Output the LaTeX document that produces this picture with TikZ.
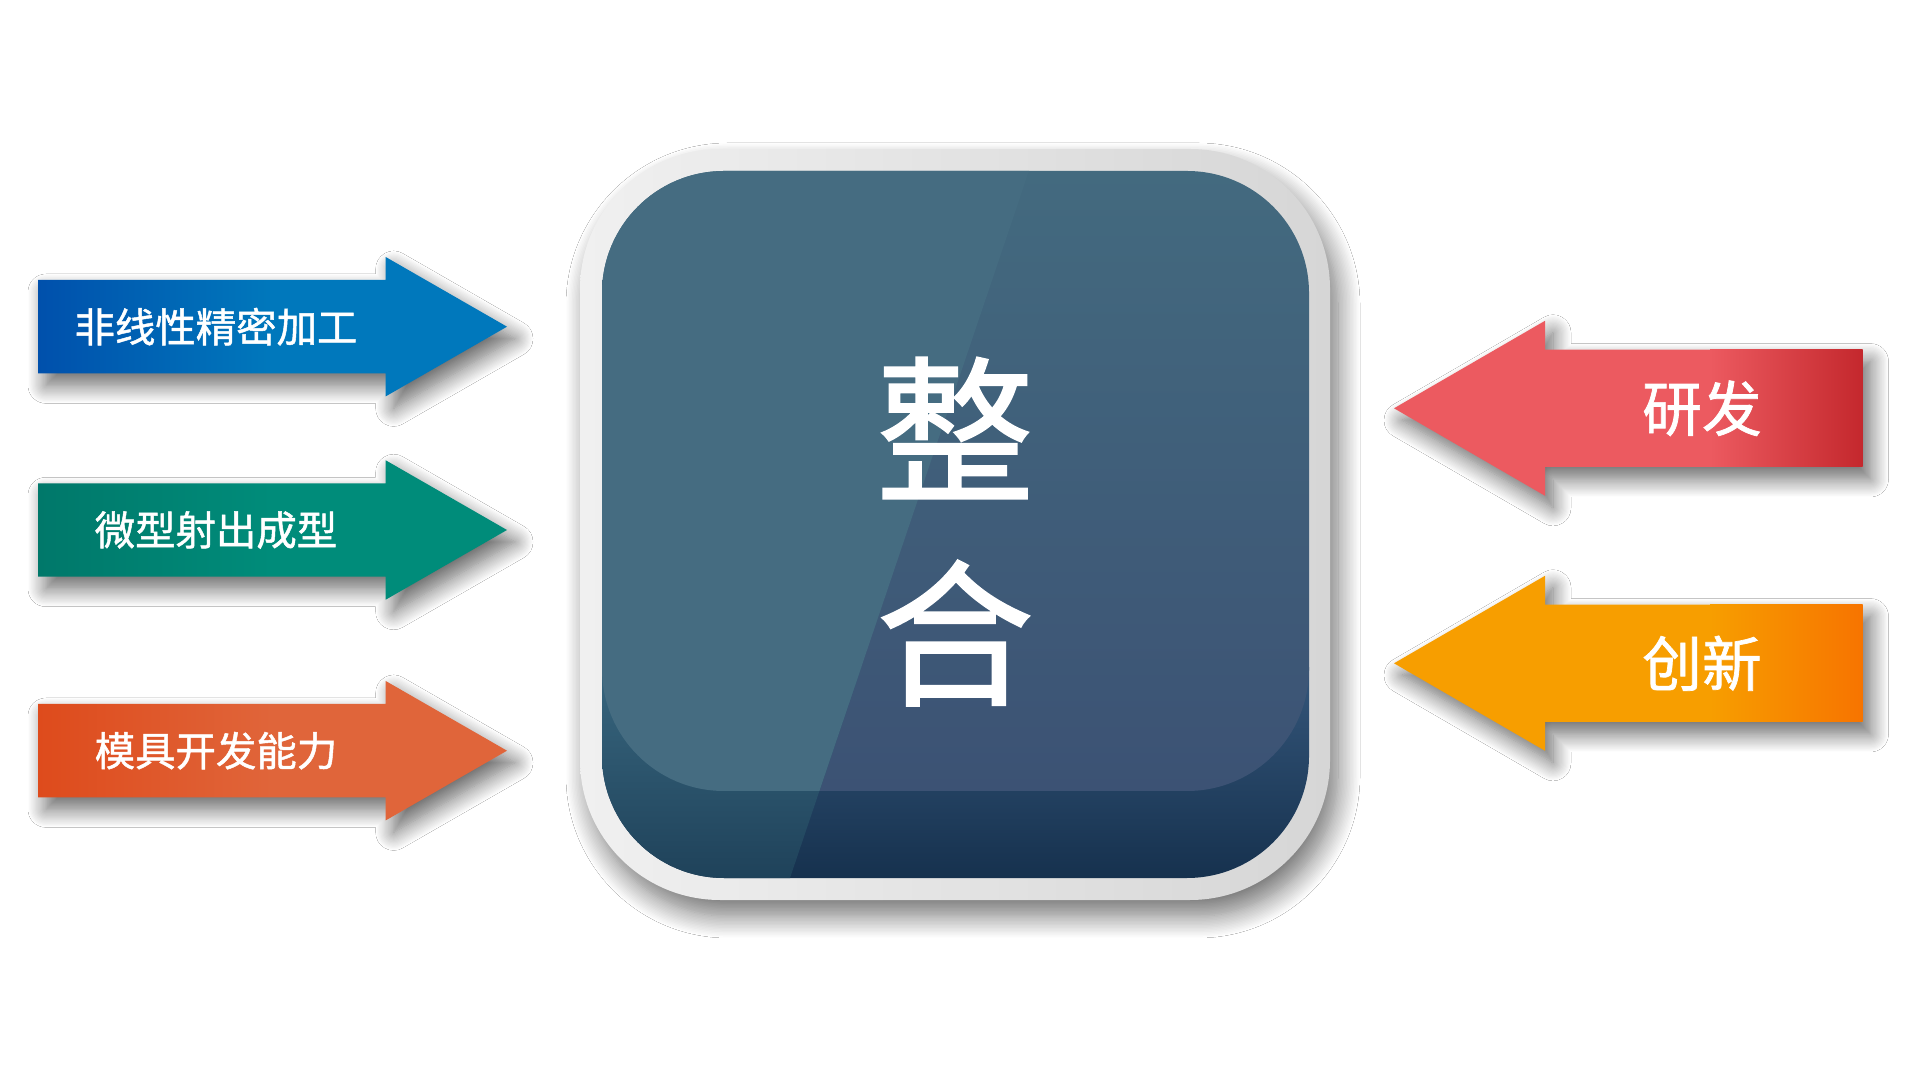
\documentclass[tikz,border=0pt]{standalone}
\usepackage{fontspec}
\newfontfamily\cjk[FakeBold=1.2]{Noto Sans CJK SC}
\usetikzlibrary{shadows.blur}

\definecolor{blueA}{HTML}{0050AC}
\definecolor{blueB}{HTML}{0078BC}
\definecolor{greenA}{HTML}{00786A}
\definecolor{greenB}{HTML}{008C7A}
\definecolor{rustA}{HTML}{DE4B1C}
\definecolor{rustB}{HTML}{E0653A}
\definecolor{redA}{HTML}{EC5A60}
\definecolor{redB}{HTML}{C4282D}
\definecolor{orangeA}{HTML}{F79E00}
\definecolor{orangeB}{HTML}{F77400}
\definecolor{frameA}{HTML}{F0F0F0}
\definecolor{frameB}{HTML}{D6D6D6}
\definecolor{upTop}{HTML}{436A7F}
\definecolor{upBot}{HTML}{3C5274}
\definecolor{upLeft}{HTML}{456C81}
\definecolor{bandTop}{HTML}{34567A}
\definecolor{bandBot}{HTML}{16314E}
\definecolor{bandLTop}{HTML}{38667E}
\definecolor{bandLBot}{HTML}{1F425A}

\begin{document}
\begin{tikzpicture}[
  lbl/.style={text=white, font=\cjk\fontsize{11.5pt}{14pt}\selectfont},
  rlbl/.style={text=white, font=\cjk\fontsize{17pt}{20pt}\selectfont},
  biglbl/.style={text=white, font=\cjk\fontsize{45pt}{50pt}\selectfont},
  softshadow/.style={blur shadow={shadow xshift=0.08cm, shadow yshift=-0.12cm, shadow blur radius=0.18cm, shadow blur steps=16, shadow opacity=60}},
  boxshadow/.style={blur shadow={shadow xshift=0.08cm, shadow yshift=-0.16cm, shadow blur radius=0.22cm, shadow blur steps=16, shadow opacity=55}}
]
\useasboundingbox (0,0) rectangle (19.2,10.68);
\fill[white] (0,0) rectangle (19.2,10.68);

% left arrows
\shade[softshadow, left color=blueA, right color=blueB, middle color=blueB] (0.38,6.946) -- (3.857,6.946) -- (3.857,6.716) -- (5.07,7.413) -- (3.857,8.11) -- (3.857,7.88) -- (0.38,7.88) -- cycle;
\node[lbl] (jiagong) at (2.16,7.413) {非线性精密加工};

\shade[softshadow, left color=greenA, right color=greenB, middle color=greenB] (0.38,4.913) -- (3.857,4.913) -- (3.857,4.683) -- (5.07,5.38) -- (3.857,6.077) -- (3.857,5.847) -- (0.38,5.847) -- cycle;
\node[lbl] (sheshu) at (2.16,5.38) {微型射出成型};

\shade[softshadow, left color=rustA, right color=rustB, middle color=rustB] (0.38,2.706) -- (3.857,2.706) -- (3.857,2.476) -- (5.07,3.173) -- (3.857,3.87) -- (3.857,3.64) -- (0.38,3.64) -- cycle;
\node[lbl] (moju) at (2.16,3.173) {模具开发能力};

% right arrows
\fill[softshadow, redA] (18.625,6.01) -- (15.45,6.01) -- (15.45,5.722) -- (13.94,6.597) -- (15.45,7.472) -- (15.45,7.184) -- (18.625,7.184) -- cycle;
\shade[left color=redA, right color=redB] (17.1,6.01) rectangle (18.625,7.184);
\node[rlbl] (yanfa) at (17.02,6.597) {研发};

\fill[softshadow, orangeA] (18.625,3.46) -- (15.45,3.46) -- (15.45,3.172) -- (13.94,4.047) -- (15.45,4.922) -- (15.45,4.634) -- (18.625,4.634) -- cycle;
\shade[left color=orangeA, right color=orangeB] (17.1,3.46) rectangle (18.625,4.634);
\node[rlbl] (chuangxin) at (17.02,4.047) {创新};

% centre box
\shade[boxshadow, rounded corners=1.4cm, left color=frameA, right color=frameB] (5.80,1.68) rectangle (13.30,9.19);
\begin{scope}
  \clip[rounded corners=1.22cm] (6.02,1.90) rectangle (13.09,8.97);
  \shade[top color=bandTop, bottom color=bandBot] (6.02,1.90) rectangle (13.09,4.0);
  \shade[rounded corners=1.22cm, top color=upTop, bottom color=upBot] (6.02,2.77) rectangle (13.09,8.97);
  \clip (6.02,8.97) -- (10.29,8.97) -- (7.90,1.90) -- (6.02,1.90) -- cycle;
  \shade[top color=bandLTop, bottom color=bandLBot] (6.02,1.90) rectangle (13.09,4.0);
  \fill[rounded corners=1.22cm, upLeft] (6.02,2.77) rectangle (13.09,8.97);
\end{scope}
\node[biglbl] (zheng) at (9.55,6.40) {整};
\node[biglbl] (he) at (9.55,4.35) {合};

\end{tikzpicture}
\end{document}
